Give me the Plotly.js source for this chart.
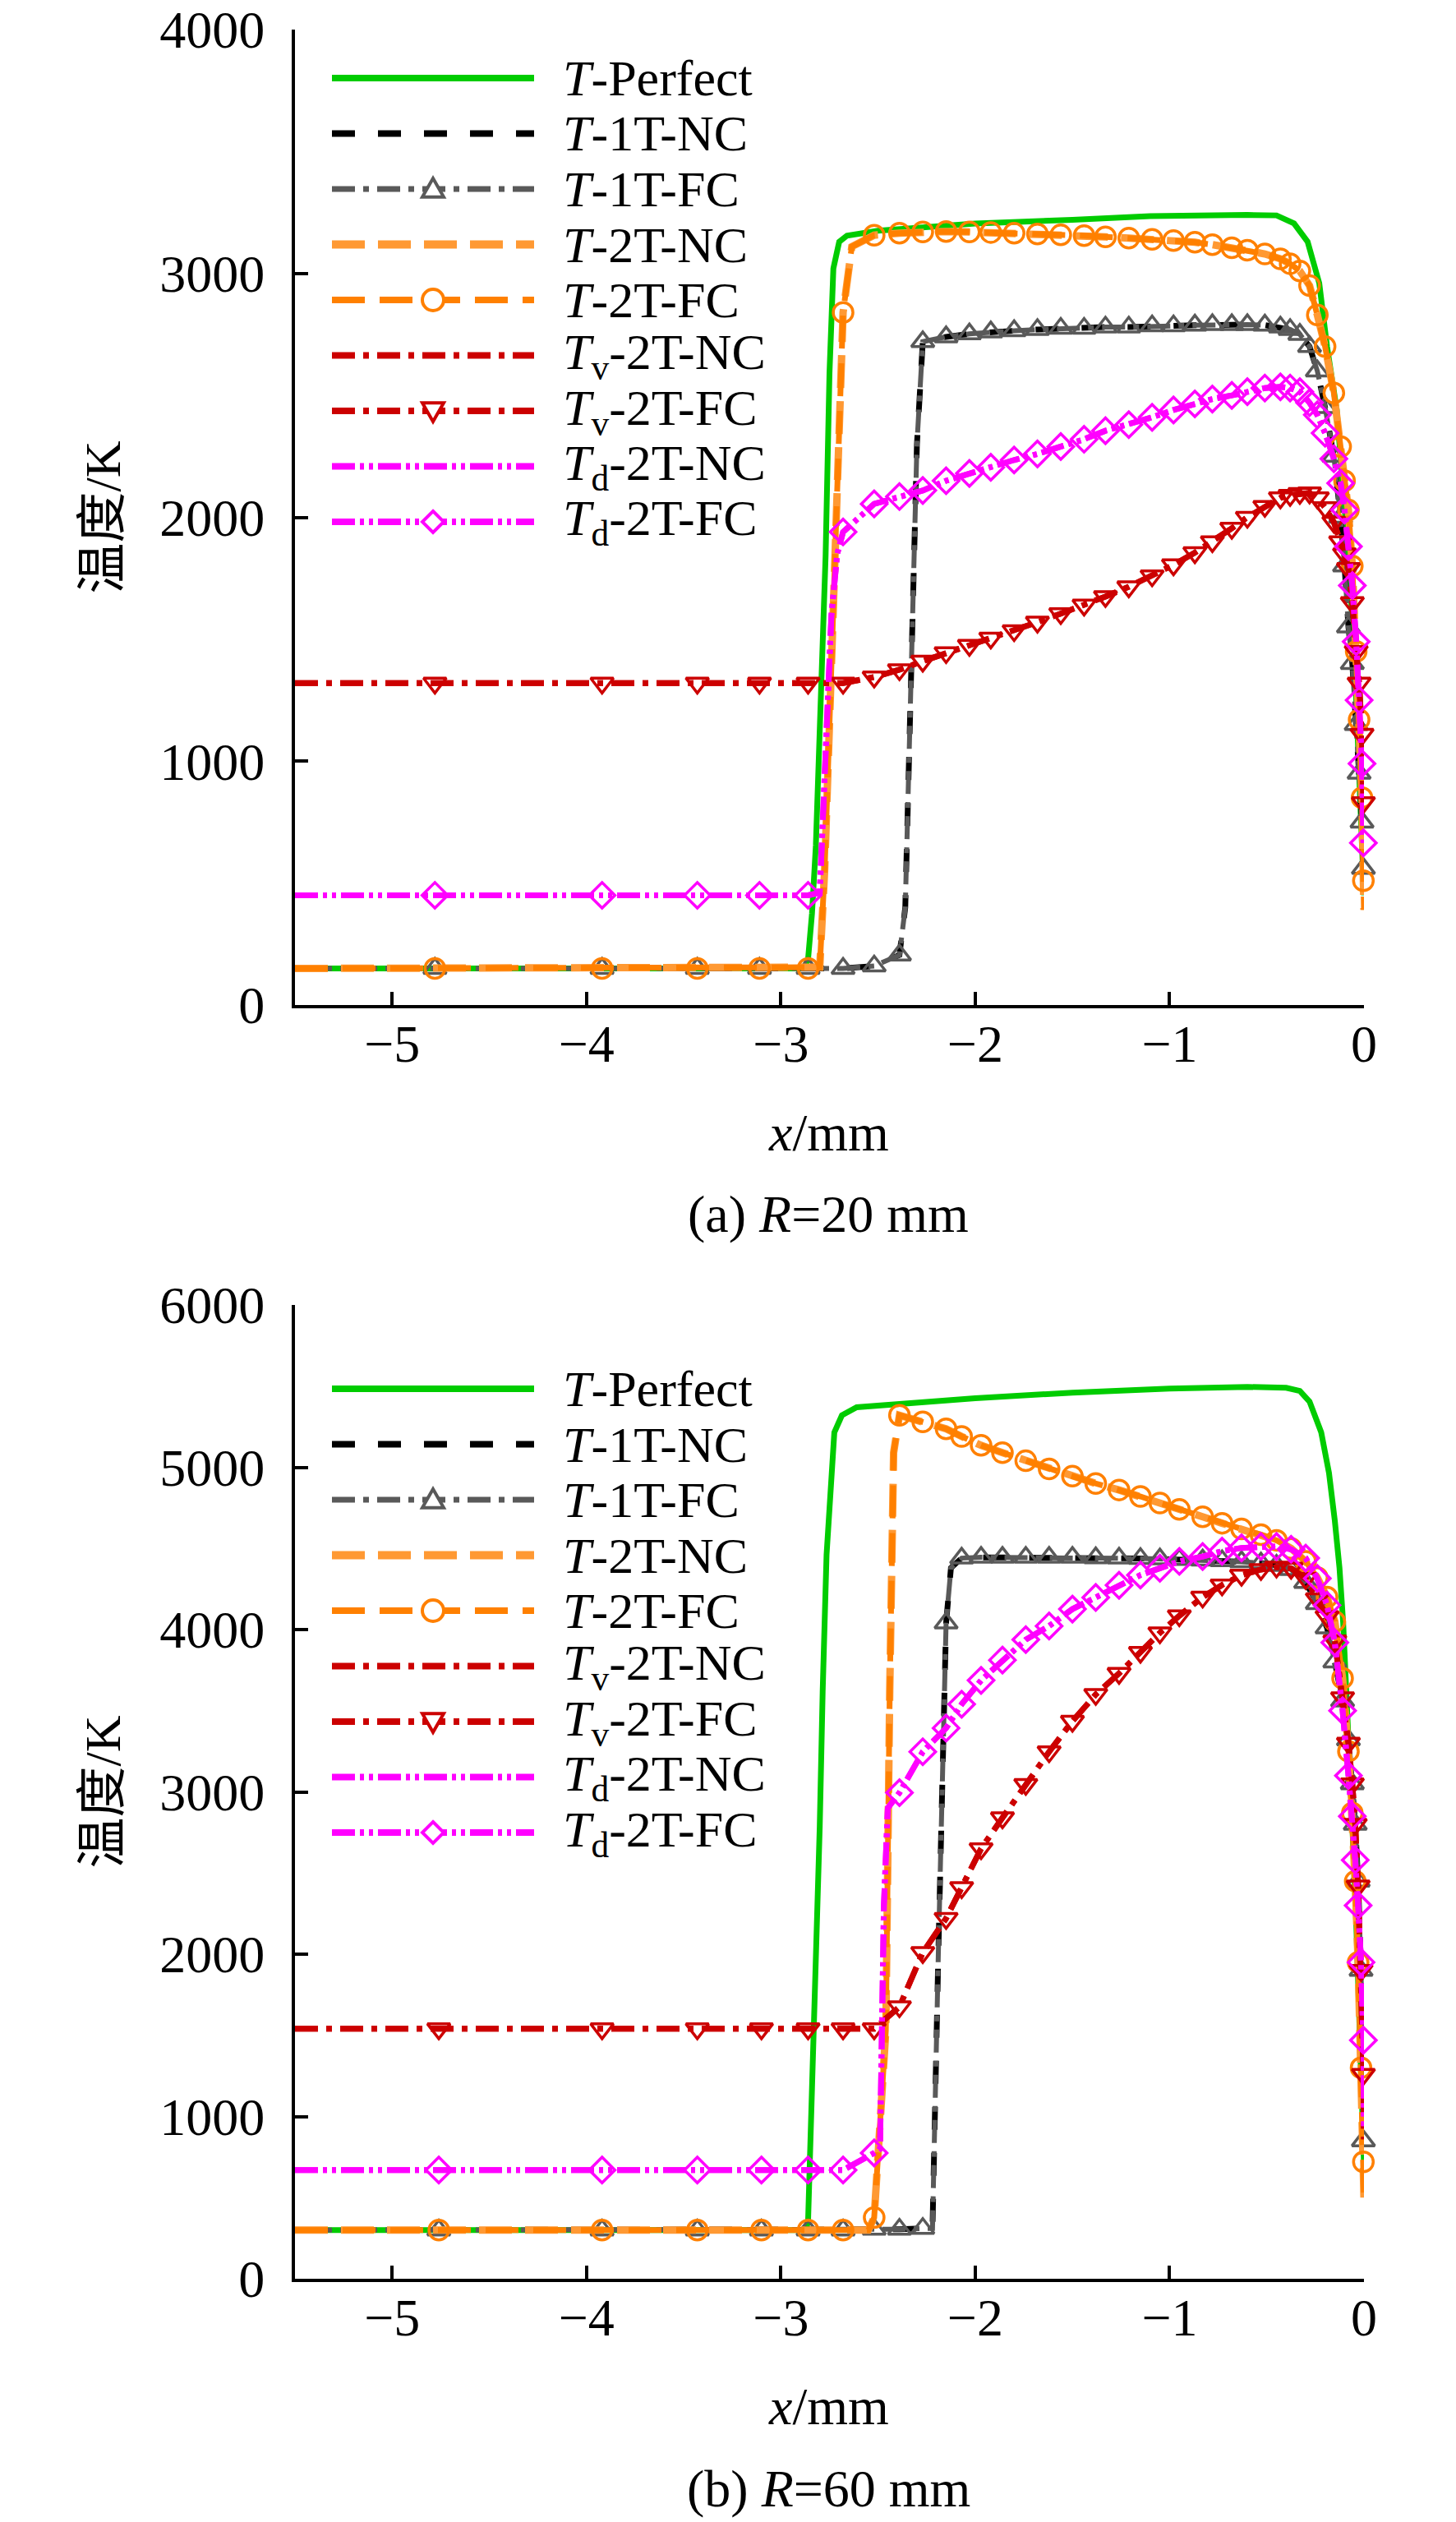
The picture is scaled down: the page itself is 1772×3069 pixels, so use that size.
<!DOCTYPE html>
<html>
<head>
<meta charset="utf-8">
<script src="https://cdn.plot.ly/plotly-3.0.1.min.js"></script>
<style>html,body{margin:0;padding:0;background:#fff}</style>
</head>
<body>
<div id="chart" style="width:1772px;height:3069px"></div>
<script>
// ---- (a) R = 20 mm ----
// marker positions (grid points that carry symbols in the FC curves)
const grid20 = [-4.78, -3.92, -3.43, -3.11, -2.86, -2.68, -2.52, -2.39, -2.27, -2.15, -2.03, -1.92, -1.80, -1.68, -1.56, -1.44, -1.33, -1.21, -1.09, -0.98, -0.87, -0.78, -0.68, -0.60, -0.51, -0.43, -0.38, -0.33, -0.28, -0.24, -0.20, -0.155, -0.12, -0.10, -0.08, -0.06, -0.04, -0.025, -0.01, -0.003];
const t1Mark20 = [150, 150, 150, 150, 150, 150, 160, 205, 2720, 2740, 2752, 2760, 2765, 2770, 2775, 2775, 2780, 2780, 2785, 2785, 2788, 2790, 2790, 2790, 2788, 2780, 2770, 2750, 2700, 2600, 2450, 2250, 2000, 1800, 1550, 1400, 1150, 950, 750, 560];
const t2Mark20 = [150, 150, 150, 150, 150, 2840, 3157, 3165, 3170, 3172, 3170, 3168, 3165, 3162, 3158, 3155, 3150, 3145, 3140, 3135, 3128, 3118, 3105, 3095, 3080, 3060, 3040, 3010, 2950, 2830, 2700, 2510, 2290, 2150, 2030, 1800, 1450, 1170, 850, 510];
const tvMark20 = [1320, 1320, 1320, 1320, 1320, 1320, 1345, 1375, 1410, 1445, 1475, 1505, 1535, 1570, 1605, 1640, 1675, 1715, 1760, 1805, 1855, 1900, 1955, 2000, 2045, 2080, 2090, 2098, 2100, 2080, 2040, 1980, 1900, 1850, 1790, 1650, 1450, 1320, 1110, 830];
const tdMark20 = [450, 450, 450, 450, 450, 1940, 2055, 2085, 2110, 2150, 2180, 2205, 2235, 2260, 2290, 2320, 2355, 2380, 2410, 2440, 2465, 2485, 2500, 2515, 2530, 2535, 2530, 2515, 2470, 2420, 2345, 2240, 2140, 2030, 1880, 1720, 1490, 1250, 990, 665];
// extra curve points between markers (left edge, shock rise, wall end)
const t1Edge20X = [-5.5, -2.36, -2.33, -2.30];
const t1Edge20Y = [150, 400, 1300, 2300];
const t2Edge20X = [-5.5, -2.80, -2.775, -2.74, -2.71, -2.635, 0];
const t2Edge20Y = [150, 155, 550, 1400, 2050, 3110, 390];
const tvEdge20X = [-5.5];
const tvEdge20Y = [1320];
const tdEdge20X = [-5.5, -2.80, -2.77, -2.74, -2.71];
const tdEdge20Y = [450, 460, 1000, 1600, 1850];
const perfect20X = [-5.5, -2.88, -2.86, -2.84, -2.82, -2.80, -2.77, -2.75, -2.73, -2.70, -2.66, -2.50, -2.00, -1.50, -1.10, -0.60, -0.45, -0.36, -0.29, -0.23, -0.19, -0.14, -0.11, -0.08, -0.05, -0.03, -0.01, 0];
const perfect20Y = [150, 150, 190, 375, 655, 1190, 1840, 2590, 3020, 3130, 3155, 3175, 3205, 3220, 3235, 3240, 3238, 3205, 3130, 2960, 2700, 2440, 2160, 1840, 1450, 1100, 700, 450];

// ---- (b) R = 60 mm ----
const grid60 = [-4.76, -3.92, -3.43, -3.10, -2.86, -2.68, -2.52, -2.39, -2.27, -2.15, -2.07, -1.97, -1.86, -1.74, -1.62, -1.50, -1.38, -1.26, -1.15, -1.05, -0.95, -0.83, -0.73, -0.63, -0.53, -0.45, -0.375, -0.30, -0.24, -0.19, -0.15, -0.11, -0.08, -0.06, -0.045, -0.03, -0.015, -0.003];
const t1Mark60 = [300, 300, 300, 300, 300, 300, 305, 305, 310, 4040, 4440, 4445, 4445, 4445, 4445, 4445, 4442, 4440, 4438, 4435, 4432, 4428, 4424, 4418, 4410, 4395, 4370, 4290, 4160, 4010, 3800, 3560, 3320, 3050, 2800, 2450, 1900, 850];
const t2Mark60 = [300, 300, 300, 300, 300, 300, 377, 5320, 5280, 5237, 5190, 5135, 5090, 5040, 4990, 4945, 4900, 4860, 4820, 4780, 4740, 4695, 4655, 4620, 4585, 4550, 4500, 4420, 4320, 4200, 4050, 3700, 3250, 2870, 2450, 1950, 1300, 720];
const tvMark60 = [1540, 1540, 1540, 1540, 1540, 1540, 1540, 1676, 2010, 2220, 2410, 2650, 2840, 3046, 3247, 3435, 3600, 3730, 3860, 3980, 4085, 4200, 4275, 4335, 4370, 4385, 4378, 4315, 4190, 4080, 3930, 3580, 3300, 3050, 2800, 2420, 1900, 1260];
const tdMark60 = [670, 670, 670, 670, 670, 670, 775, 2995, 3247, 3393, 3540, 3687, 3812, 3938, 4022, 4126, 4198, 4273, 4336, 4378, 4420, 4450, 4483, 4503, 4512, 4512, 4495, 4440, 4315, 4150, 3920, 3500, 3100, 2850, 2580, 2300, 1950, 1470];
const t1Edge60X = [-5.5, -2.22, -2.19, -2.125];
const t1Edge60Y = [300, 310, 2000, 4380];
const t2Edge60X = [-5.5, -2.55, -2.46, -2.44, -2.42, 0];
const t2Edge60Y = [300, 300, 1530, 3620, 5090, 500];
const tvEdge60X = [-5.5, 0];
const tvEdge60Y = [1540, 860];
const tdEdge60X = [-5.5, -2.49, -2.47, -2.45, 0];
const tdEdge60Y = [670, 800, 2300, 2900, 940];
const perfect60X = [-5.5, -2.87, -2.86, -2.84, -2.82, -2.80, -2.785, -2.765, -2.725, -2.686, -2.61, -2.30, -2.00, -1.50, -1.00, -0.60, -0.40, -0.33, -0.28, -0.22, -0.18, -0.15, -0.126, -0.107, -0.08, -0.06, -0.04, -0.02, 0];
const perfect60Y = [300, 300, 360, 1110, 1950, 2790, 3620, 4460, 5215, 5320, 5370, 5400, 5425, 5460, 5485, 5495, 5490, 5470, 5405, 5215, 4965, 4670, 4380, 4040, 3400, 2800, 2200, 1500, 700];

const labels = ['<i>T</i>-Perfect', '<i>T</i>-1T-NC', '<i>T</i>-1T-FC', '<i>T</i>-2T-NC', '<i>T</i>-2T-FC',
  '<i>T</i><sub>v</sub>-2T-NC', '<i>T</i><sub>v</sub>-2T-FC', '<i>T</i><sub>d</sub>-2T-NC', '<i>T</i><sub>d</sub>-2T-FC'];

const FONT = '"Liberation Serif", "Times New Roman", "Noto Sans CJK SC", serif';
const W = 1772, H = 3069;
const X = p => p / W;
const Y = p => 1 - p / H;

const GREEN = '#00cc00', BLACK = '#000000', GRAY = '#595959', ORANGE_NC = '#ff9933', ORANGE = '#ff8000', RED = '#cc0000', MAGENTA = '#ff00ff';
const DASHDOT = '28px,10px,7px,10px';
const DASHDOTDOT = '28px,6px,5px,6px,5px,6px';

// order follows the legend: line style, optional marker symbol
const styles = [
  {color: GREEN, width: 7, dash: 'solid'},
  {color: BLACK, width: 7, dash: '28px,28px'},
  {color: GRAY, width: 6, dash: DASHDOT, symbol: 'triangle-up'},
  {color: ORANGE_NC, width: 9, dash: '40px,16px'},
  {color: ORANGE, width: 7, dash: '40px,18px', symbol: 'circle'},
  {color: RED, width: 7, dash: DASHDOT},
  {color: RED, width: 7, dash: DASHDOT, symbol: 'triangle-down'},
  {color: MAGENTA, width: 7, dash: DASHDOTDOT},
  {color: MAGENTA, width: 7, dash: DASHDOTDOT, symbol: 'diamond'}
];

function curve(mx, my, ex, ey) {
  const pts = mx.map((x, i) => [x, my[i]]).concat(ex.map((x, i) => [x, ey[i]]));
  pts.sort((a, b) => a[0] - b[0]);
  return {x: pts.map(p => p[0]), y: pts.map(p => p[1])};
}

function buildPanel(xa, ya, grid, perfX, perfY, groups) {
  const traces = [];
  const s0 = styles[0];
  traces.push({type: 'scatter', mode: 'lines', x: perfX, y: perfY, xaxis: xa, yaxis: ya,
    line: {color: s0.color, width: s0.width}, hoverinfo: 'skip'});
  groups.forEach((g, k) => {
    const c = curve(grid, g.mark, g.ex, g.ey);
    const nc = styles[1 + 2 * k], fc = styles[2 + 2 * k];
    traces.push({type: 'scatter', mode: 'lines', x: c.x, y: c.y, xaxis: xa, yaxis: ya,
      line: {color: nc.color, width: nc.width, dash: nc.dash}, hoverinfo: 'skip'});
    traces.push({type: 'scatter', mode: 'lines', x: c.x, y: c.y, xaxis: xa, yaxis: ya,
      line: {color: fc.color, width: fc.width, dash: fc.dash}, hoverinfo: 'skip'});
    traces.push({type: 'scatter', mode: 'markers', x: grid, y: g.mark, xaxis: xa, yaxis: ya,
      cliponaxis: false,
      marker: {symbol: fc.symbol + '-open', size: 24, color: fc.color, line: {color: fc.color, width: 3.5}},
      hoverinfo: 'skip'});
  });
  return traces;
}

const traces = [].concat(
  buildPanel('x', 'y', grid20, perfect20X, perfect20Y, [
    {mark: t1Mark20, ex: t1Edge20X, ey: t1Edge20Y},
    {mark: t2Mark20, ex: t2Edge20X, ey: t2Edge20Y},
    {mark: tvMark20, ex: tvEdge20X, ey: tvEdge20Y},
    {mark: tdMark20, ex: tdEdge20X, ey: tdEdge20Y}
  ]),
  buildPanel('x2', 'y2', grid60, perfect60X, perfect60Y, [
    {mark: t1Mark60, ex: t1Edge60X, ey: t1Edge60Y},
    {mark: t2Mark60, ex: t2Edge60X, ey: t2Edge60Y},
    {mark: tvMark60, ex: tvEdge60X, ey: tvEdge60Y},
    {mark: tdMark60, ex: tdEdge60X, ey: tdEdge60Y}
  ])
);

// hand-made legend (long line samples like the original)
const shapes = [];
const annotations = [];
function glyph(sym, cx, cy, r, color) {
  if (sym === 'circle') {
    return {type: 'circle', xref: 'paper', yref: 'paper', x0: X(cx - r), x1: X(cx + r), y0: Y(cy + r), y1: Y(cy - r),
      line: {color: color, width: 4}, fillcolor: '#ffffff'};
  }
  let pts;
  if (sym === 'triangle-up') pts = [[cx, cy - r], [cx + r, cy + r * 0.75], [cx - r, cy + r * 0.75]];
  else if (sym === 'triangle-down') pts = [[cx, cy + r], [cx + r, cy - r * 0.75], [cx - r, cy - r * 0.75]];
  else pts = [[cx, cy - r], [cx + r, cy], [cx, cy + r], [cx - r, cy]];
  const d = 'M' + pts.map(p => X(p[0]) + ',' + Y(p[1])).join(' L') + ' Z';
  return {type: 'path', xref: 'paper', yref: 'paper', path: d, line: {color: color, width: 4}, fillcolor: '#ffffff'};
}
function legend(firstRow) {
  labels.forEach((lab, i) => {
    const cy = firstRow + 67.5 * i;
    const st = styles[i];
    shapes.push({type: 'line', xref: 'paper', yref: 'paper', x0: X(404), x1: X(650), y0: Y(cy), y1: Y(cy),
      line: {color: st.color, width: st.width + 1, dash: st.dash}});
    if (st.symbol) shapes.push(glyph(st.symbol, 527, cy, 13, st.color));
    annotations.push({xref: 'paper', yref: 'paper', x: X(683), y: Y(cy), xanchor: 'left', yanchor: 'middle',
      text: lab, showarrow: false, font: {family: FONT, size: 62, color: '#000'}});
  });
}
legend(95);
legend(1690);

function titles(axisTop, axisBottom, caption) {
  annotations.push({xref: 'paper', yref: 'paper', x: X(124), y: Y((axisTop + axisBottom) / 2),
    xanchor: 'center', yanchor: 'middle', textangle: -90,
    text: '温度/K', showarrow: false, font: {family: FONT, size: 62, color: '#000'}});
  annotations.push({xref: 'paper', yref: 'paper', x: X(1008), y: Y(axisBottom + 155), xanchor: 'center', yanchor: 'middle',
    text: '<i>x</i>/mm', showarrow: false, font: {family: FONT, size: 64, color: '#000'}});
  annotations.push({xref: 'paper', yref: 'paper', x: X(1008), y: Y(axisBottom + 255), xanchor: 'center', yanchor: 'middle',
    text: caption, showarrow: false, font: {family: FONT, size: 64, color: '#000'}});
}
titles(36, 1223, '(a) <i>R</i>=20 mm');
titles(1588, 2773, '(b) <i>R</i>=60 mm');

function xAxis(anchor) {
  return {domain: [X(359), X(1660)], anchor: anchor, range: [-5.5, 0], tickvals: [-5, -4, -3, -2, -1, 0],
    ticks: 'inside', ticklen: 16, tickwidth: 4, tickcolor: '#000', showline: true, linecolor: '#000', linewidth: 4,
    showgrid: false, zeroline: false, ticklabelstandoff: -12, tickfont: {family: FONT, size: 64, color: '#000'}};
}
function yAxis(anchor, top, bottom, max) {
  return {domain: [Y(bottom), Y(top)], anchor: anchor, range: [0, max], dtick: 1000, tick0: 0,
    ticks: 'inside', ticklen: 16, tickwidth: 4, tickcolor: '#000', showline: true, linecolor: '#000', linewidth: 4,
    showgrid: false, zeroline: false, ticklabelstandoff: 20, tickfont: {family: FONT, size: 64, color: '#000'}};
}

const layout = {
  width: W, height: H,
  margin: {l: 0, r: 0, t: 0, b: 0},
  paper_bgcolor: '#ffffff', plot_bgcolor: '#ffffff',
  showlegend: false,
  font: {family: FONT, size: 64, color: '#000'},
  xaxis: xAxis('y'), yaxis: yAxis('x', 36, 1223, 4000),
  xaxis2: xAxis('y2'), yaxis2: yAxis('x2', 1588, 2773, 6000),
  shapes: shapes,
  annotations: annotations
};

Plotly.newPlot('chart', traces, layout, {staticPlot: true, displayModeBar: false});
</script>
</body>
</html>
